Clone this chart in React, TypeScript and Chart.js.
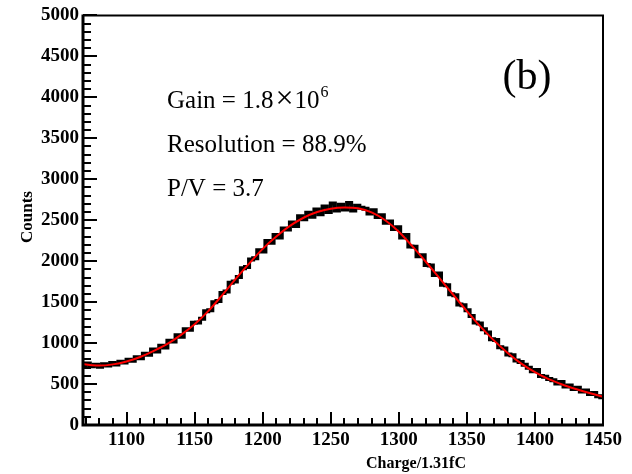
import React, { useEffect, useRef } from "react";
import { Chart, registerables } from "chart.js";

Chart.register(...registerables);

// ---- data ----
const X_MIN = 1068;
const X_MAX = 1450;
const Y_MIN = 0;
const Y_MAX = 5000;
const X_MAJOR = 50;
const X_MINOR = 10;
const Y_MAJOR = 500;
const Y_MINOR = 100;

const BIN_LOW = 1067;
const BIN_WIDTH = 3;
const counts = [
  730, 752, 718, 735, 712, 741, 726, 758, 737, 771,
  762, 795, 784, 828, 815, 870, 858, 921, 898, 968,
  945, 1028, 1019, 1095, 1078, 1168, 1162, 1248, 1251, 1296,
  1389, 1402, 1498, 1515, 1612, 1631, 1735, 1752, 1806, 1912,
  1928, 2019, 2036, 2134, 2118, 2245, 2226, 2318, 2290, 2398,
  2385, 2472, 2430, 2548, 2512, 2590, 2541, 2632, 2574, 2668,
  2601, 2705, 2618, 2688, 2632, 2710, 2619, 2676, 2651, 2640,
  2582, 2621, 2538, 2560, 2470, 2485, 2392, 2415, 2290, 2318,
  2180, 2176, 2061, 2072, 1954, 1948, 1832, 1849, 1712, 1705,
  1597, 1585, 1470, 1462, 1402, 1330, 1252, 1240, 1170, 1130,
  1048, 1038, 948, 935, 862, 850, 788, 770, 735, 698,
  655, 672, 598, 590, 562, 546, 508, 526, 470, 481,
  440, 455, 410, 421, 378, 392, 352, 340,
];

const fitX = [
  1068, 1075, 1080, 1090, 1100, 1110, 1120, 1130, 1140, 1150,
  1160, 1170, 1180, 1190, 1200, 1210, 1220, 1230, 1240, 1250,
  1260, 1270, 1280, 1290, 1300, 1310, 1320, 1330, 1340, 1350,
  1360, 1370, 1380, 1390, 1400, 1410, 1420, 1430, 1440, 1450,
];
const fitY = [
  745, 730, 725, 740, 775, 830, 905, 990, 1100, 1230,
  1390, 1580, 1780, 1970, 2150, 2300, 2430, 2530, 2600, 2640,
  2655, 2645, 2595, 2500, 2360, 2180, 1990, 1790, 1590, 1390,
  1200, 1030, 880, 750, 645, 560, 495, 440, 390, 345,
];

const gainParts = ["Gain = 1.8", "\u00D7", "10", "6"];
const annotLines = ["Resolution = 88.9%", "P/V = 3.7"];
const panelLabel = "(b)";
const xTitle = "Charge/1.31fC";
const yTitle = "Counts";

const SERIF = "'Liberation Serif', 'Times New Roman', serif";

const rootStyle = {
  id: "rootStyle",
  afterDatasetsDraw(chart: any) {
    const { ctx, chartArea: a, scales } = chart;
    const x = scales.x;
    const y = scales.y;
    ctx.save();
    ctx.strokeStyle = "#000";
    ctx.lineWidth = 2;
    ctx.lineCap = "butt";
    for (let v = Math.ceil(X_MIN / X_MINOR) * X_MINOR; v <= X_MAX; v += X_MINOR) {
      const px = Math.round(x.getPixelForValue(v));
      const len = v % X_MAJOR === 0 ? 13 : 7;
      ctx.beginPath();
      ctx.moveTo(px, a.bottom);
      ctx.lineTo(px, a.bottom - len);
      ctx.stroke();
    }
    for (let v = Y_MIN; v <= Y_MAX; v += Y_MINOR) {
      const py = Math.round(y.getPixelForValue(v));
      const len = v % Y_MAJOR === 0 ? 14 : 8;
      ctx.beginPath();
      ctx.moveTo(a.left, py);
      ctx.lineTo(a.left + len, py);
      ctx.stroke();
    }
    ctx.lineWidth = 2;
    ctx.beginPath();
    ctx.moveTo(a.left, a.top);
    ctx.lineTo(a.right, a.top);
    ctx.lineTo(a.right, a.bottom);
    ctx.stroke();
    ctx.lineWidth = 3;
    ctx.beginPath();
    ctx.moveTo(a.left, a.top - 1);
    ctx.lineTo(a.left, a.bottom);
    ctx.lineTo(a.right + 1, a.bottom);
    ctx.stroke();
    ctx.restore();
  },
  afterDraw(chart: any) {
    const { ctx } = chart;
    ctx.save();
    ctx.fillStyle = "#000";
    ctx.textAlign = "center";
    ctx.textBaseline = "middle";
    ctx.font = `bold 16px ${SERIF}`;
    ctx.fillText(xTitle, 416, 464);
    ctx.save();
    ctx.translate(28, 217);
    ctx.rotate(-Math.PI / 2);
    ctx.font = `bold 17px ${SERIF}`;
    ctx.fillText(yTitle, 0, 0);
    ctx.restore();
    ctx.textAlign = "left";
    ctx.textBaseline = "alphabetic";
    // Gain line
    let gx = 167;
    ctx.font = `25px ${SERIF}`;
    ctx.fillText(gainParts[0], gx, 108);
    gx += ctx.measureText(gainParts[0]).width + 2;
    ctx.font = `32px ${SERIF}`;
    ctx.fillText(gainParts[1], gx, 108);
    gx += ctx.measureText(gainParts[1]).width + 1;
    ctx.font = `25px ${SERIF}`;
    ctx.fillText(gainParts[2], gx, 108);
    gx += ctx.measureText(gainParts[2]).width + 1;
    ctx.font = `16px ${SERIF}`;
    ctx.fillText(gainParts[3], gx, 97);
    // other lines
    ctx.font = `25px ${SERIF}`;
    const baselines = [152, 196];
    annotLines.forEach((t, i) => ctx.fillText(t, 167, baselines[i]));
    ctx.font = `42px ${SERIF}`;
    ctx.textAlign = "center";
    ctx.fillText(panelLabel, 527, 89);
    ctx.restore();
  },
};

export default function App() {
  const ref = useRef<HTMLCanvasElement | null>(null);
  useEffect(() => {
    document.body.style.margin = "0";
    const canvas = ref.current;
    if (!canvas) return;
    const histData = counts.map((c, i) => ({ x: BIN_LOW + BIN_WIDTH * (i + 0.5), y: c }));
    const fitData = fitX.map((xv, i) => ({ x: xv, y: fitY[i] }));
    const chart = new Chart(canvas, {
      type: "line",
      data: {
        datasets: [
          {
            label: "fit",
            data: fitData,
            borderColor: "#ff0000",
            borderWidth: 2,
            pointRadius: 0,
            tension: 0.4,
            cubicInterpolationMode: "monotone",
            fill: false,
          },
          {
            label: "hist",
            data: histData,
            borderColor: "#000000",
            borderWidth: 4,
            pointRadius: 0,
            stepped: "middle",
            fill: false,
          },
        ],
      },
      options: {
        responsive: false,
        animation: false,
        devicePixelRatio: 1,
        layout: { padding: { top: 13, right: 29, left: 0, bottom: 0 } },
        plugins: { legend: { display: false }, tooltip: { enabled: false } },
        scales: {
          x: {
            type: "linear",
            min: X_MIN,
            max: X_MAX,
            offset: false,
            grid: { display: false, drawTicks: false },
            border: { display: false },
            ticks: {
              stepSize: X_MAJOR,
              includeBounds: false,
              autoSkip: false,
              maxRotation: 0,
              padding: 4,
              color: "#000",
              font: { family: SERIF, size: 19, weight: "bold" },
              callback: (v: any) => String(v),
            },
            afterFit: (s: any) => {
              s.height = 49;
            },
          },
          y: {
            type: "linear",
            min: Y_MIN,
            max: Y_MAX,
            grid: { display: false, drawTicks: false },
            border: { display: false },
            ticks: {
              stepSize: Y_MAJOR,
              autoSkip: false,
              padding: 4,
              color: "#000",
              font: { family: SERIF, size: 19, weight: "bold" },
              callback: (v: any) => String(v),
            },
            afterFit: (s: any) => {
              s.width = 83;
            },
          },
        },
      },
      plugins: [rootStyle],
    });
    return () => chart.destroy();
  }, []);
  return (
    <div style={{ width: 632, height: 474, background: "#fff" }}>
      <canvas ref={ref} width={632} height={474} />
    </div>
  );
}
